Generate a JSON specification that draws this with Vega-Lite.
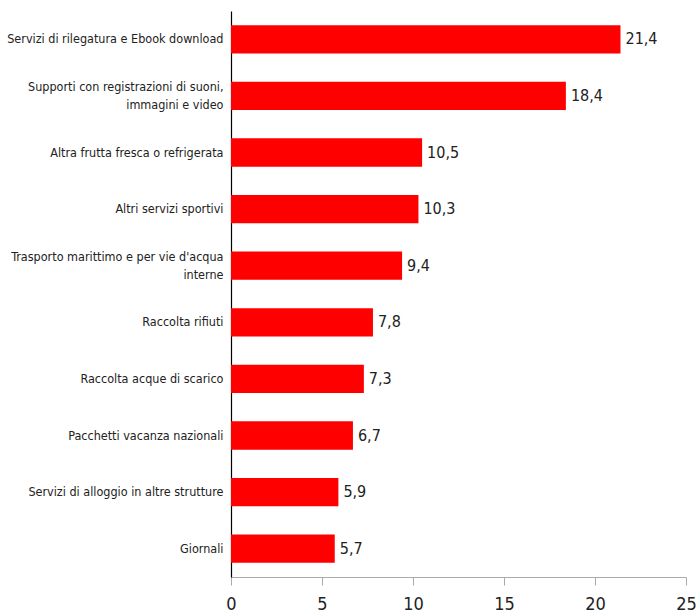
{
  "$schema": "https://vega.github.io/schema/vega-lite/v6.json",
  "width": 455,
  "height": 566,
  "autosize": {"type": "none"},
  "padding": {"left": 231, "top": 11, "right": 10, "bottom": 39},
  "background": "white",
  "config": {
    "locale": {"number": {"decimal": ",", "thousands": ".", "grouping": [3], "currency": ["", " €"]}},
    "view": {"stroke": null},
    "font": "DejaVu Sans Condensed"
  },
  "data": {
    "values": [
      {"categoria": "Servizi di rilegatura e Ebook download", "valore": 21.4},
      {"categoria": "Supporti con registrazioni di suoni,|immagini e video", "valore": 18.4},
      {"categoria": "Altra frutta fresca o refrigerata", "valore": 10.5},
      {"categoria": "Altri servizi sportivi", "valore": 10.3},
      {"categoria": "Trasporto marittimo e per vie d'acqua|interne", "valore": 9.4},
      {"categoria": "Raccolta rifiuti", "valore": 7.8},
      {"categoria": "Raccolta acque di scarico", "valore": 7.3},
      {"categoria": "Pacchetti vacanza nazionali", "valore": 6.7},
      {"categoria": "Servizi di alloggio in altre strutture", "valore": 5.9},
      {"categoria": "Giornali", "valore": 5.7}
    ]
  },
  "encoding": {
    "y": {
      "field": "categoria",
      "type": "nominal",
      "sort": null,
      "scale": {"paddingInner": 0.5, "paddingOuter": 0.25},
      "axis": {
        "title": null,
        "labelExpr": "split(datum.value, '|')",
        "labelFontSize": 12.5,
        "labelColor": "#222",
        "labelPadding": 8,
        "labelLimit": 0,
        "labelLineHeight": 18,
        "labelOffset": {"condition": {"test": "indexof(datum.value, '|') >= 0", "value": -9}, "value": 0},
        "ticks": false,
        "domainColor": "#000",
        "domainWidth": 1.2
      }
    },
    "x": {
      "field": "valore",
      "type": "quantitative",
      "scale": {"domain": [0, 25]},
      "axis": {
        "title": null,
        "values": [0, 5, 10, 15, 20, 25],
        "grid": false,
        "labelFontSize": 18,
        "labelColor": "#222",
        "labelPadding": 10,
        "tickSize": 8,
        "tickColor": "#aaa",
        "domainColor": "#aaa",
        "labelFlush": false
      }
    }
  },
  "layer": [
    {"mark": {"type": "bar", "color": "#ff0000"}},
    {
      "mark": {"type": "text", "align": "left", "baseline": "middle", "dx": 5, "fontSize": 16, "color": "#222"},
      "encoding": {"text": {"field": "valore", "type": "quantitative", "format": ".1f"}}
    }
  ]
}
